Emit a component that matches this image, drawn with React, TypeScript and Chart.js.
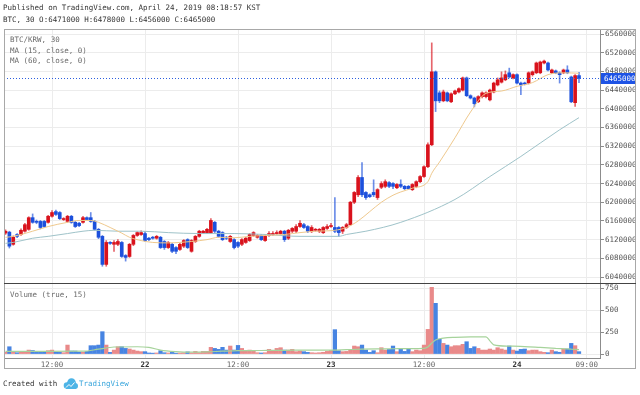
import React, { useEffect, useRef } from "react";
import { Chart, registerables } from "chart.js";

Chart.register(...registerables);

const MONO = '"DejaVu Sans Mono", "Liberation Mono", monospace';

// BTC/KRW 30-minute candles, Apr 21 06:00 -> Apr 24 08:00 KST (prices in KRW thousands)
const OPEN = [
  6134, 6136, 6110, 6131, 6131, 6138, 6142, 6167, 6159, 6159,
  6159, 6157, 6170, 6180, 6178, 6163, 6159, 6170, 6157, 6155,
  6157, 6167, 6167, 6159, 6142, 6127, 6067, 6114, 6110, 6110,
  6114, 6086, 6084, 6110, 6129, 6131, 6133, 6123, 6125, 6123,
  6125, 6116, 6103, 6110, 6103, 6099, 6106, 6120, 6095, 6116,
  6127, 6135, 6135, 6135, 6157, 6138, 6135, 6125, 6116, 6120,
  6114, 6110, 6114, 6118, 6129, 6125, 6129, 6118, 6129, 6131,
  6133, 6133, 6138, 6123, 6138, 6138, 6148, 6152, 6148, 6138,
  6140, 6138, 6135, 6144, 6148, 6146, 6146, 6138, 6146, 6152,
  6200, 6216, 6253, 6221, 6216, 6221, 6210, 6232, 6234, 6242,
  6240, 6231, 6238, 6234, 6234, 6227, 6234, 6244, 6255, 6276,
  6323, 6479, 6434, 6417, 6434, 6415, 6432, 6436, 6440, 6466,
  6428, 6423, 6415, 6426, 6426, 6419, 6436, 6451, 6457, 6462,
  6477, 6466, 6473, 6455, 6455, 6455, 6473, 6477, 6477, 6498,
  6498, 6477, 6481, 6477, 6477, 6483, 6468, 6413, 6471,
];
const HIGH = [
  6141, 6138, 6128, 6133, 6143, 6155, 6169, 6175, 6162, 6161,
  6161, 6172, 6182, 6183, 6180, 6167, 6172, 6172, 6159, 6157,
  6170, 6169, 6178, 6161, 6144, 6129, 6118, 6116, 6118, 6120,
  6116, 6088, 6112, 6131, 6137, 6139, 6137, 6125, 6127, 6129,
  6127, 6118, 6116, 6112, 6105, 6112, 6120, 6122, 6120, 6129,
  6140, 6140, 6144, 6165, 6159, 6140, 6137, 6127, 6129, 6122,
  6116, 6122, 6125, 6133, 6137, 6131, 6131, 6131, 6137, 6137,
  6139, 6140, 6140, 6142, 6146, 6152, 6161, 6155, 6150, 6150,
  6144, 6144, 6148, 6152, 6155, 6210, 6148, 6148, 6155, 6202,
  6223, 6257, 6285, 6223, 6218, 6248, 6229, 6244, 6248, 6244,
  6242, 6240, 6248, 6236, 6236, 6240, 6246, 6257, 6278, 6327,
  6541, 6481, 6438, 6440, 6436, 6434, 6440, 6445, 6468, 6468,
  6430, 6425, 6428, 6436, 6436, 6442, 6457, 6466, 6479, 6481,
  6487, 6475, 6475, 6457, 6457, 6479, 6481, 6500, 6502, 6504,
  6500, 6485, 6483, 6479, 6485, 6492, 6470, 6473, 6478,
];
const LOW = [
  6131, 6102, 6108, 6124, 6129, 6136, 6140, 6155, 6154, 6143,
  6146, 6155, 6168, 6172, 6163, 6161, 6157, 6155, 6146, 6148,
  6155, 6161, 6157, 6140, 6122, 6063, 6063, 6110, 6095, 6107,
  6082, 6074, 6082, 6107, 6127, 6129, 6116, 6118, 6121, 6121,
  6101, 6099, 6101, 6092, 6090, 6097, 6103, 6101, 6093, 6114,
  6125, 6133, 6133, 6133, 6135, 6125, 6118, 6120, 6114, 6100,
  6103, 6107, 6112, 6116, 6127, 6123, 6118, 6116, 6127, 6129,
  6131, 6131, 6116, 6120, 6135, 6135, 6146, 6144, 6135, 6135,
  6138, 6135, 6133, 6142, 6146, 6135, 6127, 6133, 6144, 6150,
  6197, 6212, 6212, 6206, 6210, 6212, 6206, 6229, 6231, 6231,
  6229, 6229, 6231, 6227, 6227, 6225, 6231, 6242, 6253, 6274,
  6321, 6394, 6413, 6415, 6415, 6413, 6430, 6434, 6438, 6426,
  6421, 6404, 6413, 6423, 6423, 6417, 6434, 6449, 6455, 6460,
  6466, 6464, 6453, 6430, 6451, 6453, 6470, 6475, 6475, 6496,
  6481, 6475, 6475, 6455, 6475, 6475, 6413, 6405, 6456,
];
const CLOSE = [
  6138, 6106, 6125, 6127, 6140, 6152, 6167, 6157, 6157, 6146,
  6148, 6170, 6178, 6174, 6165, 6165, 6170, 6157, 6148, 6150,
  6167, 6163, 6159, 6142, 6125, 6067, 6114, 6112, 6114, 6116,
  6084, 6082, 6110, 6129, 6135, 6135, 6118, 6120, 6123, 6127,
  6103, 6103, 6114, 6095, 6095, 6110, 6118, 6103, 6118, 6127,
  6138, 6138, 6142, 6161, 6138, 6127, 6120, 6123, 6127, 6103,
  6106, 6120, 6123, 6131, 6135, 6129, 6120, 6127, 6133, 6133,
  6135, 6138, 6120, 6140, 6144, 6148, 6155, 6146, 6138, 6146,
  6142, 6142, 6146, 6148, 6150, 6138, 6135, 6146, 6152, 6200,
  6221, 6253, 6216, 6210, 6212, 6216, 6227, 6240, 6244, 6234,
  6234, 6238, 6234, 6229, 6229, 6238, 6244, 6255, 6276, 6323,
  6479, 6417, 6417, 6436, 6417, 6432, 6438, 6443, 6466, 6428,
  6423, 6411, 6426, 6434, 6434, 6440, 6455, 6462, 6466, 6473,
  6468, 6473, 6455, 6451, 6453, 6477, 6479, 6498, 6500, 6502,
  6483, 6483, 6477, 6473, 6483, 6477, 6415, 6471, 6465,
];
const VOLUME = [
  20, 83, 20, 15, 23, 30, 45, 40, 19, 19,
  20, 38, 45, 20, 19, 15, 102, 34, 34, 22,
  22, 30, 95, 95, 102, 254, 102, 19, 45, 83,
  83, 64, 57, 45, 34, 27, 27, 12, 10, 12,
  38, 15, 12, 19, 10, 12, 15, 25, 12, 30,
  15, 30, 30, 76, 64, 53, 76, 45, 91, 45,
  98, 64, 34, 45, 34, 15, 12, 15, 53, 34,
  64, 72, 45, 45, 53, 27, 34, 27, 19, 15,
  12, 15, 20, 30, 40, 277, 38, 27, 30, 53,
  91, 83, 102, 45, 19, 38, 15, 72, 45, 53,
  91, 27, 57, 30, 57, 27, 45, 38, 102, 280,
  758, 576, 167, 121, 102, 83, 95, 95, 110, 140,
  64, 83, 64, 45, 45, 57, 45, 72, 57, 45,
  91, 45, 34, 53, 57, 38, 45, 45, 27, 19,
  15, 45, 27, 20, 57, 57, 121, 95, 27,
];
// Moving averages (bar index, value)
const MA15_X = [0, 2, 7, 11, 16, 19, 22, 24, 27, 30, 32, 35, 38, 42, 45, 48, 52, 55, 59, 63, 67, 72, 76, 80, 85, 88, 91, 94, 97, 100, 102, 105, 109, 110, 112, 116, 120, 124, 128, 132, 136, 140, 144, 148];
const MA15_Y = [6125, 6127, 6138, 6148, 6157, 6161, 6161, 6157, 6146, 6134, 6125, 6118, 6114, 6113, 6114, 6116, 6120, 6125, 6124, 6127, 6129, 6131, 6135, 6138, 6140, 6146, 6160, 6180, 6200, 6215, 6222, 6230, 6244, 6262, 6286, 6338, 6393, 6433, 6438, 6448, 6456, 6473, 6477, 6476];
const MA60_X = [0, 2, 7, 11, 16, 20, 23, 29, 35, 42, 50, 59, 67, 76, 86, 88, 93, 102, 116, 125, 133, 143, 148];
const MA60_Y = [6112, 6114, 6123, 6127, 6133, 6138, 6140, 6138, 6138, 6135, 6133, 6133, 6131, 6127, 6127, 6131, 6138, 6157, 6206, 6255, 6298, 6355, 6381];
const VOLMA_X = [0, 10, 20, 24, 28, 34, 37, 40, 44, 48, 52, 56, 60, 66, 72, 78, 84, 88, 92, 96, 100, 104, 108, 109, 110, 111, 113, 116, 120, 124, 125, 126, 130, 134, 138, 142, 146, 148];
const VOLMA_Y = [30, 30, 32, 55, 80, 83, 75, 45, 28, 22, 25, 32, 38, 40, 42, 45, 45, 50, 55, 58, 60, 62, 65, 80, 125, 160, 180, 190, 195, 195, 150, 105, 90, 85, 75, 65, 55, 50];

const PRICE_TICKS = [6040000, 6080000, 6120000, 6160000, 6200000, 6240000, 6280000, 6320000, 6360000, 6400000, 6440000, 6480000, 6520000, 6560000];
const VOLUME_TICKS = [0, 250, 500, 750];
const TIME_TICK_POS = [12, 36, 60, 84, 108, 132, 150];
const TIME_TICK_LABELS = ["12:00", "22", "12:00", "23", "12:00", "24", "09:00"];
const TIME_TICK_BOLD = [false, true, false, true, false, true, false];
const LAST_PRICE = 6465000;
const UNIT = 1000;

const RED = "#d9121c";
const BLUE = "#1c50dc";
const WICK_RED = "rgba(217,18,28,0.65)";
const WICK_BLUE = "rgba(28,80,220,0.65)";
const VOL_RED = "#e98a8a";
const VOL_BLUE = "#4784e2";

const overlay = {
  id: "overlay",
  beforeDraw(chart: any) {
    const ctx = chart.ctx;
    ctx.save();
    ctx.fillStyle = "#ffffff";
    ctx.fillRect(0, 0, chart.width, chart.height);
    ctx.restore();
  },
  afterDraw(chart: any) {
    const ctx = chart.ctx;
    const { left, right, top, bottom } = chart.chartArea;
    const ys = chart.scales.y;
    const yv = chart.scales.yv;
    const W = chart.width;
    ctx.save();
    ctx.font = `7.5px ${MONO}`;
    ctx.textBaseline = "middle";

    ctx.fillStyle = "#ffffff";
    ctx.fillRect(W - 4, 0, 4, chart.height);

    const py = Math.round(ys.getPixelForValue(LAST_PRICE)) + 0.5;
    ctx.strokeStyle = "#2d5fe0";
    ctx.lineWidth = 1;
    ctx.setLineDash([1, 2]);
    ctx.beginPath();
    ctx.moveTo(left, py);
    ctx.lineTo(right, py);
    ctx.stroke();
    ctx.setLineDash([]);
    ctx.fillStyle = "#1e53e5";
    ctx.fillRect(right + 1, py - 5.5, W - 4 - right - 1, 11);
    ctx.fillStyle = "#ffffff";
    ctx.fillText(String(LAST_PRICE), right + 4, py + 0.5);

    ctx.strokeStyle = "#a8a8a8";
    ctx.strokeRect(left + 0.5, top + 0.5, W - 4 - left - 1, bottom + 11 - top - 1);
    ctx.strokeStyle = "#444444";
    ctx.beginPath();
    ctx.moveTo(left, Math.round(ys.bottom) + 0.5);
    ctx.lineTo(W - 4, Math.round(ys.bottom) + 0.5);
    ctx.stroke();

    ctx.fillStyle = "#333333";
    ctx.fillText("Published on TradingView.com, April 24, 2019 08:18:57 KST", 3, 8);
    ctx.fillText("BTC, 30 O:6471000 H:6478000 L:6456000 C:6465000", 3, 20);

    ctx.fillStyle = "#6a6a6a";
    ctx.fillText("BTC/KRW, 30", 10, top + 11.5);
    ctx.fillText("MA (15, close, 0)", 10, top + 22);
    ctx.fillText("MA (60, close, 0)", 10, top + 32.5);
    ctx.fillText("Volume (true, 15)", 10, yv.top + 12);

    ctx.fillStyle = "#333333";
    ctx.fillText("Created with", 3, 384);
    ctx.fillStyle = "#4db4e6";
    ctx.beginPath();
    ctx.arc(67, 385.5, 3.3, 0, Math.PI * 2);
    ctx.arc(71.5, 382.5, 4.3, 0, Math.PI * 2);
    ctx.arc(75, 386, 3, 0, Math.PI * 2);
    ctx.fill();
    ctx.fillRect(66, 385, 10, 4);
    ctx.strokeStyle = "#ffffff";
    ctx.lineWidth = 1;
    ctx.beginPath();
    ctx.moveTo(66, 387.5);
    ctx.lineTo(69, 384.5);
    ctx.lineTo(71, 386.5);
    ctx.lineTo(74.5, 382.5);
    ctx.stroke();
    ctx.fillStyle = "#3aa6dc";
    ctx.fillText("TradingView", 79, 384);
    ctx.restore();
  },
};

export default function App() {
  const ref = useRef<HTMLCanvasElement>(null);

  useEffect(() => {
    document.body.style.margin = "0";
    const canvas = ref.current!;
    const up = (i: number) => CLOSE[i] >= OPEN[i];
    const idx = OPEN.map((_, i) => i);

    const chart = new Chart(canvas, {
      type: "bar",
      data: {
        datasets: [
          {
            type: "line",
            label: "MA15",
            data: MA15_X.map((x, k) => ({ x, y: MA15_Y[k] * UNIT })),
            yAxisID: "y",
            xAxisID: "x",
            borderColor: "#efc98e",
            borderWidth: 1,
            pointRadius: 0,
            cubicInterpolationMode: "monotone",
            order: 1,
          } as any,
          {
            type: "line",
            label: "MA60",
            data: MA60_X.map((x, k) => ({ x, y: MA60_Y[k] * UNIT })),
            yAxisID: "y",
            xAxisID: "x",
            borderColor: "#9fc3c9",
            borderWidth: 1,
            pointRadius: 0,
            cubicInterpolationMode: "monotone",
            order: 1,
          } as any,
          {
            type: "line",
            label: "VolMA",
            data: VOLMA_X.map((x, k) => ({ x, y: VOLMA_Y[k] })),
            yAxisID: "yv",
            xAxisID: "x",
            borderColor: "#a6d39b",
            borderWidth: 1.2,
            pointRadius: 0,
            cubicInterpolationMode: "monotone",
            order: 1,
          } as any,
          {
            type: "bar",
            label: "body",
            data: idx.map((i) => ({ x: i, y: [OPEN[i] * UNIT, CLOSE[i] * UNIT] })),
            yAxisID: "y",
            xAxisID: "x",
            backgroundColor: idx.map((i) => (up(i) ? RED : BLUE)),
            barThickness: 3,
            minBarLength: 1,
            grouped: false,
            borderWidth: 0,
            order: 2,
          } as any,
          {
            type: "bar",
            label: "wick",
            data: idx.map((i) => ({ x: i, y: [LOW[i] * UNIT, HIGH[i] * UNIT] })),
            yAxisID: "y",
            xAxisID: "x",
            backgroundColor: idx.map((i) => (up(i) ? WICK_RED : WICK_BLUE)),
            barThickness: 1,
            grouped: false,
            borderWidth: 0,
            order: 3,
          } as any,
          {
            type: "bar",
            label: "volume",
            data: idx.map((i) => ({ x: i, y: VOLUME[i] })),
            yAxisID: "yv",
            xAxisID: "x",
            backgroundColor: idx.map((i) => (up(i) ? VOL_RED : VOL_BLUE)),
            barThickness: 3.6,
            grouped: false,
            borderWidth: 0,
            order: 4,
          } as any,
        ],
      },
      options: {
        responsive: false,
        animation: false,
        devicePixelRatio: 1,
        layout: { padding: { left: 4, top: 29, right: 4, bottom: 26 } },
        plugins: { legend: { display: false }, tooltip: { enabled: false } },
        scales: {
          x: {
            type: "linear",
            position: "bottom",
            offset: false,
            min: -0.39,
            max: 153.42,
            afterBuildTicks: (s: any) => {
              s.ticks = TIME_TICK_POS.map((v) => ({ value: v }));
            },
            afterFit: (s: any) => {
              s.height = 11;
            },
            ticks: {
              autoSkip: false,
              maxRotation: 0,
              padding: 3,
              color: (c: any) => (TIME_TICK_BOLD[c.index] ? "#333333" : "#666666"),
              font: (c: any) => ({ family: MONO, size: 7.5, weight: TIME_TICK_BOLD[c.index] ? "bold" : "normal" }),
              callback: (_v: any, i: number) => TIME_TICK_LABELS[i],
            },
            grid: { color: "#ececec", drawTicks: false, offset: false },
            border: { display: true, color: "#8c8c8c" },
          } as any,
          y: {
            type: "linear",
            position: "right",
            stack: "panes",
            stackWeight: 254,
            min: 6027200,
            max: 6570700,
            afterBuildTicks: (s: any) => {
              s.ticks = PRICE_TICKS.map((v) => ({ value: v }));
            },
            afterFit: (s: any) => {
              s.width = 36;
            },
            ticks: {
              autoSkip: false,
              padding: 1,
              color: "#555555",
              font: { family: MONO, size: 7.5 },
              callback: (v: any) => String(v),
            },
            grid: { color: "#ececec", tickLength: 4, tickColor: "#8c8c8c" },
            border: { display: true, color: "#8c8c8c" },
          } as any,
          yv: {
            type: "linear",
            position: "right",
            stack: "panes",
            stackWeight: 75,
            min: -45,
            max: 807,
            afterBuildTicks: (s: any) => {
              s.ticks = VOLUME_TICKS.map((v) => ({ value: v }));
            },
            afterFit: (s: any) => {
              s.width = 36;
            },
            ticks: {
              autoSkip: false,
              padding: 1,
              color: "#555555",
              font: { family: MONO, size: 7.5 },
              callback: (v: any) => String(v),
            },
            grid: { color: "#ececec", tickLength: 4, tickColor: "#8c8c8c" },
            border: { display: true, color: "#8c8c8c" },
          } as any,
        },
      },
      plugins: [overlay],
    } as any);

    return () => chart.destroy();
  }, []);

  return (
    <div style={{ width: 640, height: 395 }}>
      <canvas ref={ref} width={640} height={395} style={{ display: "block" }} />
    </div>
  );
}
